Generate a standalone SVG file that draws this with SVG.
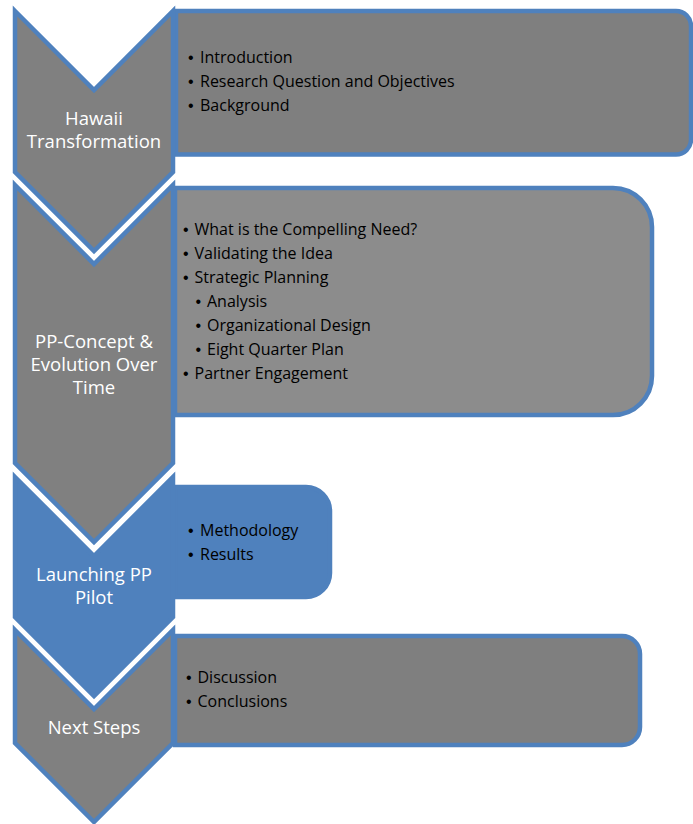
<svg xmlns="http://www.w3.org/2000/svg" width="693" height="824" viewBox="0 0 693 824">
<style>
.box{stroke:#4F81BD;stroke-width:4.5}
.chev{stroke:#4F81BD;stroke-width:4.5;stroke-linejoin:miter}
.li{font-family:"Open Sans",Lato,sans-serif;font-size:16px;fill:#000}
.b{font-family:"Liberation Sans",sans-serif;font-size:16px}
.lb{font-family:"Open Sans",Lato,sans-serif;font-size:18.5px;fill:#fff;text-anchor:middle}
</style>
<rect width="693" height="824" fill="#fff"/>
<g id="box1">
<path class="box" fill="#7F7F7F" d="M176,11 H676 A15,15 0 0 1 691,26 V139.5 A15,15 0 0 1 676,154.5 H176 Z"/>
<text class="li"><tspan class="b" x="188" y="63">•</tspan><tspan x="200" y="63">Introduction</tspan></text>
<text class="li"><tspan class="b" x="188" y="87">•</tspan><tspan x="200" y="87">Research Question and Objectives</tspan></text>
<text class="li"><tspan class="b" x="188" y="111">•</tspan><tspan x="200" y="111">Background</tspan></text>
</g>
<g id="box2">
<path class="box" fill="#8C8C8C" d="M175,188 H613 A39,39 0 0 1 652,227 V376 A39,39 0 0 1 613,415 H175 Z"/>
<text class="li"><tspan class="b" x="183" y="235">•</tspan><tspan x="194.5" y="235">What is the Compelling Need?</tspan></text>
<text class="li"><tspan class="b" x="183" y="259">•</tspan><tspan x="194.5" y="259">Validating the Idea</tspan></text>
<text class="li"><tspan class="b" x="183" y="283">•</tspan><tspan x="194.5" y="283">Strategic Planning</tspan></text>
<text class="li"><tspan class="b" x="195.5" y="307">•</tspan><tspan x="207" y="307">Analysis</tspan></text>
<text class="li"><tspan class="b" x="195.5" y="331">•</tspan><tspan x="207" y="331">Organizational Design</tspan></text>
<text class="li"><tspan class="b" x="195.5" y="355">•</tspan><tspan x="207" y="355">Eight Quarter Plan</tspan></text>
<text class="li"><tspan class="b" x="183" y="379">•</tspan><tspan x="194.5" y="379">Partner Engagement</tspan></text>
</g>
<g id="box3">
<path class="box" fill="#4F81BD" d="M175,487 H306 A24,24 0 0 1 330,511 V573 A24,24 0 0 1 306,597 H175 Z"/>
<text class="li"><tspan class="b" x="188" y="536">•</tspan><tspan x="200" y="536">Methodology</tspan></text>
<text class="li"><tspan class="b" x="188" y="560">•</tspan><tspan x="200" y="560">Results</tspan></text>
</g>
<g id="box4">
<path class="box" fill="#7F7F7F" d="M175,636 H622 A18,18 0 0 1 640,654 V727 A18,18 0 0 1 622,745 H175 Z"/>
<text class="li"><tspan class="b" x="186" y="683">•</tspan><tspan x="197.5" y="683">Discussion</tspan></text>
<text class="li"><tspan class="b" x="186" y="707">•</tspan><tspan x="197.5" y="707">Conclusions</tspan></text>
</g>
<g id="connectors"></g>
<g id="chevron1">
<path class="chev" fill="#808080" d="M15,11 L94,90 L173,11 L173,172 L94,251 L15,172 Z"/>
<text class="lb" x="94" y="125">Hawaii</text>
<text class="lb" x="94" y="148">Transformation</text>
</g>
<g id="chevron2">
<path class="chev" fill="#808080" d="M15,185 L94,264 L173,185 L173,463 L94,542 L15,463 Z"/>
<text class="lb" x="94" y="348">PP-Concept &amp;</text>
<text class="lb" x="94" y="371">Evolution Over</text>
<text class="lb" x="94" y="394">Time</text>
</g>
<g id="chevron3">
<path class="chev" fill="#4F81BD" d="M15,477 L94,556 L173,477 L173,617 L94,696 L15,617 Z"/>
<text class="lb" x="94" y="581">Launching PP</text>
<text class="lb" x="94" y="604">Pilot</text>
</g>
<g id="chevron4">
<path class="chev" fill="#808080" d="M15,630 L94,709 L173,630 L173,743 L94,822 L15,743 Z"/>
<text class="lb" x="94" y="734">Next Steps</text>
</g>
</svg>
